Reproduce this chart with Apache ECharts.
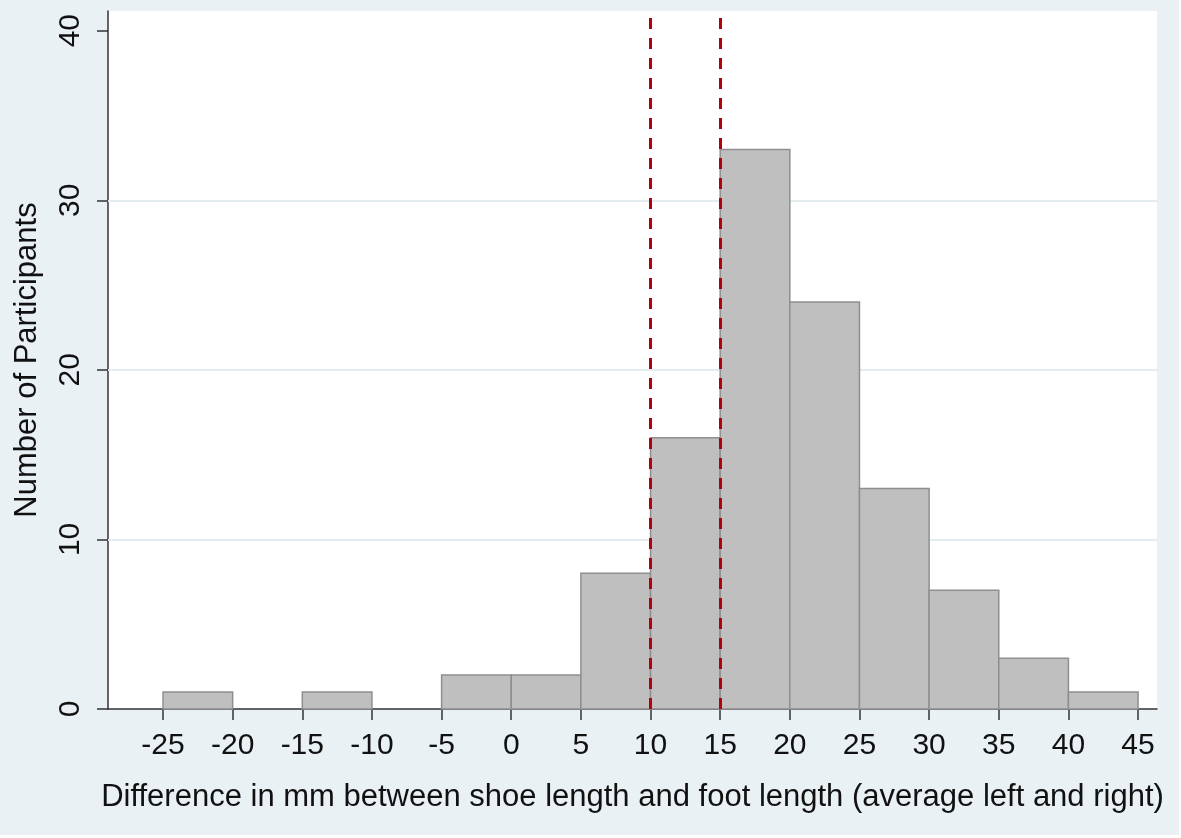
<!DOCTYPE html>
<html>
<head>
<meta charset="utf-8">
<script src="https://cdn.jsdelivr.net/npm/echarts@6/dist/echarts.min.js"></script>
<style>
  html, body { margin: 0; padding: 0; background: #ffffff; }
  #main { width: 1181px; height: 838px; }
</style>
</head>
<body>
<div id="main"></div>
<script>
var binStarts = [-25, -20, -15, -10, -5, 0, 5, 10, 15, 20, 25, 30, 35, 40];
var binWidth = 5;
var counts = [1, 0, 1, 0, 2, 2, 8, 16, 33, 24, 13, 7, 3, 1];
var xTicks = [-25, -20, -15, -10, -5, 0, 5, 10, 15, 20, 25, 30, 35, 40, 45];
var yTicks = [0, 10, 20, 30, 40];
var gridValues = [10, 20, 30];
var refLines = [10, 15];

var FONT = "'Liberation Sans', Arial, sans-serif";

var chart = echarts.init(document.getElementById('main'), null, { renderer: 'canvas' });

var barData = binStarts.map(function (s, i) { return [s, counts[i]]; });

var option = {
    backgroundColor: '#ffffff',
    animation: false,
    graphic: [{
        type: 'rect',
        z: -10,
        shape: { x: 0, y: 0, width: 1179, height: 835 },
        style: { fill: '#eaf1f4' },
        silent: true
    }],
    grid: {
        left: 108, right: 24, top: 11, bottom: 129,
        show: true,
        backgroundColor: '#ffffff',
        borderWidth: 0
    },
    xAxis: {
        type: 'value',
        min: -28.95,
        max: 46.36,
        name: 'Difference in mm between shoe length and foot length (average left and right)',
        nameLocation: 'middle',
        nameGap: 73,
        nameTextStyle: { fontFamily: FONT, fontSize: 31, color: '#111' },
        axisLine: { show: true, onZero: false, lineStyle: { color: '#333', width: 1.5 } },
        axisTick: { show: true, length: 11, customValues: xTicks, lineStyle: { color: '#333', width: 1.5 } },
        axisLabel: { customValues: xTicks, margin: 22, fontFamily: FONT, fontSize: 30, color: '#111' },
        splitLine: { show: false }
    },
    yAxis: {
        type: 'value',
        min: 0,
        max: 41.16,
        name: 'Number of Participants',
        nameLocation: 'middle',
        nameGap: 65,
        nameRotate: 90,
        nameTextStyle: { fontFamily: FONT, fontSize: 31, color: '#111' },
        axisLine: { show: true, onZero: false, lineStyle: { color: '#333', width: 1.5 } },
        axisTick: { show: true, length: 11, customValues: yTicks, lineStyle: { color: '#333', width: 1.5 } },
        axisLabel: { customValues: yTicks, rotate: 90, margin: 22, fontFamily: FONT, fontSize: 30, color: '#111' },
        splitLine: { show: false }
    },
    series: [
        {
            // gridlines behind the bars
            type: 'line',
            data: [],
            z: 1,
            silent: true,
            markLine: {
                silent: true,
                z: 1,
                symbol: 'none',
                label: { show: false },
                lineStyle: { color: '#e3ecef', width: 2, type: 'solid' },
                data: gridValues.map(function (v) { return { yAxis: v }; })
            }
        },
        {
            type: 'custom',
            z: 3,
            data: barData,
            renderItem: function (params, api) {
                var start = api.value(0);
                var n = api.value(1);
                if (!n) return null;
                var p0 = api.coord([start, 0]);
                var p1 = api.coord([start + binWidth, n]);
                return {
                    type: 'rect',
                    shape: { x: p0[0], y: p1[1], width: p1[0] - p0[0], height: p0[1] - p1[1] },
                    style: { fill: '#bfbfbf', stroke: '#8f8f8f', lineWidth: 1.5 }
                };
            },
            markLine: {
                silent: true,
                z: 5,
                symbol: 'none',
                label: { show: false },
                lineStyle: { color: '#b3000f', width: 3, type: [11, 9] },
                data: refLines.map(function (v) { return { xAxis: v }; })
            }
        }
    ]
};

chart.setOption(option);
</script>
</body>
</html>
